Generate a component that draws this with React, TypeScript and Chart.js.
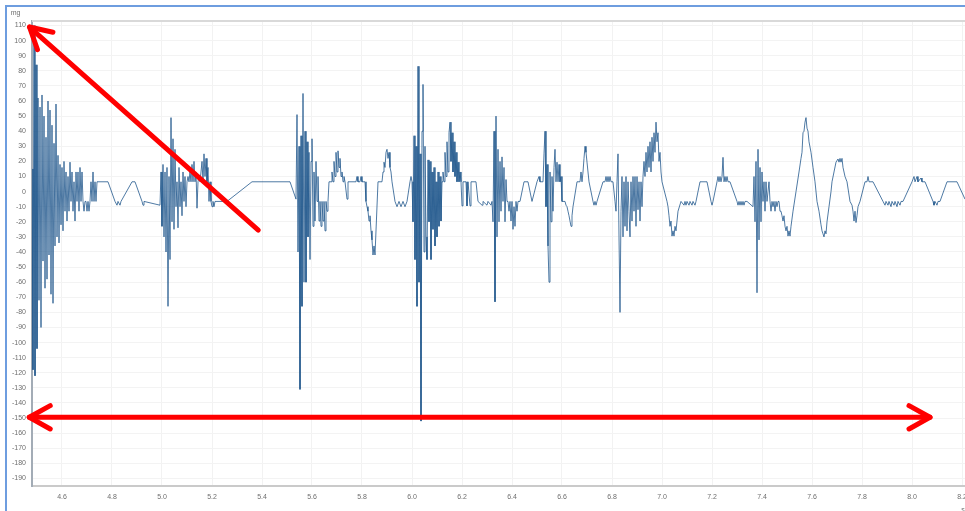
import { useEffect, useRef } from "react";
import { Chart, registerables } from "chart.js";

Chart.register(...registerables);

// ---- axis ranges -------------------------------------------------------
const X_MIN = 4.48;
const X_MAX = 8.312;
const Y_MIN = -195;
const Y_MAX = 113;
const X_STEP = 0.2;
const Y_STEP = 10;
const Y_UNIT = "mg";
const X_UNIT = "s";

// accelerometer samples every 4 ms inside bursts
const SAMPLE_S = 0.004;

// ---- bursts: start time (s) + consecutive samples (mg) -----------------
const onsetStart = 4.48;
const onsetBurst = [
  15, -118, 110, -122, 84, -104, 62, -72, 56, -90, 64, -46, 50, -64, 36, -58,
  60, -42, 54, -68, 44, -74, 32, -36, 58, -30, 24, -34, 18, -22, 16, -26, 20,
  -13, 13, -19.5, 10, -13, 19.5, -6.5, 13, -13, 6.5, -19.5, 13, -6.5, 13, -13,
  16, -6.5, 13, -6.5, -13, -6.5, -6.5, -13, -6.5, -13, -6.5, 6.5, -6.5, 13,
  -6.5, 6.5, -6.5, 6.5,
];

const secondStart = 4.992;
const secondBurst = [
  -9, 13, -23, 18, -30, 13, -40, 16, -76, 10, -45, 49, -20, 35, -25, 28, -10,
  6.5, -24, 16, -10, 6.5, -16, 13, -6.5, 10, -10, 6.5, 10, 6.5, 13, 6.5, 18,
  6.5, 20, 6.5, 13, -11, 6.5, 10, 6.5, 13, 20, 6.5, 25, 10, 22, 6.5, 16, -6.5,
  6.5, -6.5, -10, -6.5, -10, -6.5, -6.5,
];

const thirdStart = 5.536;
const thirdBurst = [
  -5, 51, -40, 30, -131, 37, -76, 65, -60, 40, -60, 33, -30, 26, -45, 20, 35,
  -23, 13, -19.5, 20, -6.5, 10, -19.5, -6.5, -23, -6.5, -19.5, -6.5, -26, -6.5,
  -13, -6.5, 6.5, 6.5, 6.5, 13, 6.5, 20, 10, 26, 13, 27, 16, 22, 10, 13, 6.5,
  10, 6.5, 6.5, -5, 6.5,
];

const dipStart = 5.812;
const dipSamples = [6.5, -6.5, -10, -13, -19.5, -16, -26, -32, -42, -36, -42];

const swellStart = 5.884;
const swellSamples = [13, 19.5, 16, 26, 28, 22, 26, 16, 13, 6.5];

const mainStart = 6.004;
const mainBurst = [
  -20, 37, -45, 30, -76, 83, -60, 25, -152, 40, 71, -40, 30, -30, -45, 21, -20,
  20, -45, 13, -25, 16, -36, 6.5, -30, 13, -23, 10, -19.5, 6.5, 13, 6.5, 26,
  10, 33, 13, 39, 46, 20, 39, 13, 33, 10, 26, 6.5, 19.5, 6.5, 13, 6.5, -9.5,
  6.5, 6.5, 6.5, 6.5, -9.5, 6.5, 6.5, -9.5, 6.5, 6.5, 6.5, 6.5, 6.5, 6.5, 6.5,
];

const fifthStart = 6.324;
const fifthBurst = [
  -20, 40, -73, 50, -30, 28, -20, 20, -13, 23, -6.5, 16, -20, 8, -6.5, -6.5,
  -13, -6.5, -19.5, -6.5, -25, -10, -23, -6.5, -13, -6.5, -6.5, -6.5,
];

const sixthStart = 6.524;
const sixthBurst = [
  6.5, 25, 40, -10, 18, -36, -60, 13, -20, 10, -13, 16, 28, 6.5, 19.5, 6.5, 18,
  6.5, 10, -6.5, -6.5, -6.5, -6.5, -9, -10, -13, -16, -19.5, -23, -16, -10,
];

const bumpStart = 6.684;
const bumpSamples = [13, 22, 30, 26, 19.5, 13, 6.5];

const seventhStart = 6.82;
const seventhBurst = [
  6.5, 25, -30, -80, -13, 10, -30, 6.5, -23, 10, -26, 6.5, -13, -30, 6.5,
  -19.5, 10, -13, 10, -23, 10, -12, 6.5, -19.5, 6.5, -10, 10, 20, 10, 26, 13,
  30, 16, 33, 13, 36, 20, 39, 26, 46, 33, 39, 20, 26, 13, 6.5,
];

const troughStart = 7.024;
const troughSamples = [-10, -16, -23, -19.5, -29.5, -26, -29.5, -23, -26, -19.5, -13];

const eighthStart = 7.368;
const eighthBurst = [
  10, -20, 20, -67, 28, -32, 16, -20, 13, -6.5, 6.5, -13, 6.5, -6.5, 0, 6.5,
  -6.5, -13, -6.5, -10, -6.5, -13, -6.5, -10, -6.5, -6.5, -13, -13, -16, -19.5,
  -16, -23, -26, -23, -29.5, -26, -29.5, -23,
];

// ---- quiet stretches, logged on change: [time s, mg] -------------------
const afterOnset = [
  [4.744, 6.5], [4.784, 6.5], [4.812, -6.5], [4.82, -9], [4.824, -6.5],
  [4.832, -9], [4.836, -6.5], [4.84, -6.5], [4.88, 6.5], [4.892, 6.5],
  [4.92, -6.5], [4.924, -9], [4.928, -6.5],
];
const afterSecond = [[5.26, -6.5], [5.36, 6.5], [5.512, 6.5]];
const afterThird = [
  [5.776, 6.5], [5.78, 10], [5.784, 6.5], [5.792, 6.5], [5.796, 10], [5.8, 6.5],
];
const afterDip = [[5.864, 6.5], [5.88, 6.5]];
const afterSwell = [
  [5.932, -6.5], [5.94, -10], [5.948, -6.5], [5.956, -10], [5.964, -6.5],
  [5.972, -10], [5.98, -6.5], [5.992, 6.5], [5.996, 10], [6.0, 6.5],
];
const afterMain = [
  [6.264, -6.5], [6.28, -9], [6.284, -6.5], [6.3, -9], [6.304, -6.5],
  [6.316, -9], [6.32, -6.5],
];
const afterFifth = [
  [6.448, 6.5], [6.464, 6.5], [6.48, -6.5], [6.5, 6.5], [6.508, 10],
  [6.512, 6.5], [6.52, 6.5],
];
const afterSixth = [[6.66, 6.5], [6.672, 6.5], [6.676, 13], [6.68, 6.5]];
const afterBump = [
  [6.724, -6.5], [6.728, -9], [6.732, -6.5], [6.736, -9], [6.74, -6.5],
  [6.744, -6.5], [6.764, 6.5], [6.772, 6.5], [6.776, 10], [6.78, 6.5],
  [6.784, 10], [6.788, 6.5], [6.792, 10], [6.796, 6.5], [6.804, 6.5],
  [6.812, -6.5], [6.816, -13],
];
const afterSeventh = [[7.02, -6.5]];
const afterTrough = [
  [7.076, -6.5], [7.088, -9], [7.092, -6.5], [7.096, -9], [7.1, -6.5],
  [7.108, -9], [7.112, -6.5], [7.12, -9], [7.124, -6.5], [7.132, -9],
  [7.136, -6.5], [7.152, 6.5], [7.18, 6.5], [7.196, -6.5], [7.2, -9],
  [7.204, -6.5], [7.22, 6.5], [7.224, 10], [7.228, 6.5], [7.232, 10],
  [7.236, 6.5], [7.24, 10], [7.244, 22.7], [7.248, 6.5], [7.252, 10],
  [7.256, 6.5], [7.26, 10], [7.264, 6.5], [7.272, 6.5], [7.3, -6.5],
  [7.304, -9], [7.308, -6.5], [7.312, -9], [7.316, -6.5], [7.32, -9],
  [7.324, -6.5], [7.328, -9], [7.332, -6.5], [7.34, -6.5], [7.364, -10],
];
const tailSway = [
  [7.524, -13], [7.536, 0], [7.548, 13], [7.556, 22], [7.56, 26], [7.564, 39],
  [7.568, 40], [7.572, 46], [7.576, 49], [7.58, 42], [7.584, 40], [7.588, 33],
  [7.596, 26], [7.604, 16], [7.612, 6.5], [7.62, -6.5], [7.628, -13],
  [7.636, -22], [7.64, -26], [7.644, -28], [7.648, -30], [7.652, -26],
  [7.656, -28], [7.66, -20], [7.668, -10], [7.676, 0], [7.68, 6.5],
  [7.688, 13], [7.696, 19.5], [7.704, 21.6], [7.708, 19.5], [7.712, 22],
  [7.716, 19.5], [7.72, 22], [7.724, 16], [7.732, 10], [7.74, 6.5],
  [7.752, -6.5], [7.76, -9], [7.764, -13], [7.768, -19.5], [7.772, -13],
  [7.776, -20.5], [7.78, -16], [7.784, -10], [7.792, -6.5], [7.812, 6.5],
  [7.82, 6.5], [7.824, 10], [7.828, 6.5], [7.844, 6.5], [7.884, -6.5],
  [7.892, -9], [7.896, -6.5], [7.904, -9], [7.908, -6.5], [7.916, -10],
  [7.92, -6.5], [7.928, -9], [7.932, -6.5], [7.94, -10], [7.944, -6.5],
  [7.952, -9], [7.956, -6.5], [7.964, -6.5], [8.0, 6.5], [8.008, 10],
  [8.012, 6.5], [8.02, 10], [8.024, 6.5], [8.036, 9], [8.04, 6.5],
  [8.052, 6.5], [8.084, -6.5], [8.088, -9], [8.092, -6.5], [8.1, -9],
  [8.104, -6.5], [8.112, -6.5], [8.14, 6.5], [8.18, 6.5], [8.212, -5],
  [8.224, -6.5],
];

// ---- red markup arrows, in data coordinates [time s, mg] ---------------
const peakArrow = [[5.385, -25.5], [4.47, 109]];
const spanArrow = [[4.469, -149.5], [8.072, -149.5]];

type Pt = { x: number; y: number };
const sampled = (start: number, values: number[]): Pt[] =>
  values.map((v, i) => ({ x: Math.round((start + i * SAMPLE_S) * 1000) / 1000, y: v }));
const logged = (pairs: number[][]): Pt[] => pairs.map(([x, y]) => ({ x, y }));

const trace: Pt[] = [
  ...sampled(onsetStart, onsetBurst),
  ...logged(afterOnset),
  ...sampled(secondStart, secondBurst),
  ...logged(afterSecond),
  ...sampled(thirdStart, thirdBurst),
  ...logged(afterThird),
  ...sampled(dipStart, dipSamples),
  ...logged(afterDip),
  ...sampled(swellStart, swellSamples),
  ...logged(afterSwell),
  ...sampled(mainStart, mainBurst),
  ...logged(afterMain),
  ...sampled(fifthStart, fifthBurst),
  ...logged(afterFifth),
  ...sampled(sixthStart, sixthBurst),
  ...logged(afterSixth),
  ...sampled(bumpStart, bumpSamples),
  ...logged(afterBump),
  ...sampled(seventhStart, seventhBurst),
  ...logged(afterSeventh),
  ...sampled(troughStart, troughSamples),
  ...logged(afterTrough),
  ...sampled(eighthStart, eighthBurst),
  ...logged(tailSway),
];

const FONT = "'Liberation Sans', Arial, sans-serif";
const TEXT = "#6e6e6e";

function arrowHead(ctx: CanvasRenderingContext2D, tx: number, ty: number, fx: number, fy: number) {
  const ang = Math.atan2(fy - ty, fx - tx);
  const len = 24;
  const spread = Math.PI / 6.2;
  ctx.beginPath();
  ctx.moveTo(tx + Math.cos(ang - spread) * len, ty + Math.sin(ang - spread) * len);
  ctx.lineTo(tx, ty);
  ctx.lineTo(tx + Math.cos(ang + spread) * len, ty + Math.sin(ang + spread) * len);
  ctx.stroke();
}

const decorations = {
  id: "decorations",
  afterDraw(chart: Chart) {
    const { ctx, chartArea, scales } = chart;
    const xs = scales.x;
    const ys = scales.y;
    ctx.save();
    // frame line along the top of the plot
    ctx.strokeStyle = "#d9d9d9";
    ctx.lineWidth = 2;
    ctx.beginPath();
    ctx.moveTo(chartArea.left, chartArea.top);
    ctx.lineTo(chartArea.right, chartArea.top);
    ctx.stroke();

    // unit labels
    ctx.fillStyle = TEXT;
    ctx.font = `7px ${FONT}`;
    ctx.textAlign = "center";
    ctx.textBaseline = "middle";
    ctx.fillText(Y_UNIT, 15.5, 13.5);
    ctx.fillText(X_UNIT, 963, 510);

    // markup arrows
    ctx.strokeStyle = "#ff0000";
    ctx.lineWidth = 5;
    ctx.lineCap = "round";
    ctx.lineJoin = "round";
    const p = (pt: number[]) => [xs.getPixelForValue(pt[0]), ys.getPixelForValue(pt[1])];

    const [a0x, a0y] = p(peakArrow[0]);
    const [a1x, a1y] = p(peakArrow[1]);
    ctx.beginPath();
    ctx.moveTo(a0x, a0y);
    ctx.lineTo(a1x, a1y);
    ctx.stroke();
    arrowHead(ctx, a1x, a1y, a0x, a0y);

    const [b0x, b0y] = p(spanArrow[0]);
    const [b1x, b1y] = p(spanArrow[1]);
    ctx.beginPath();
    ctx.moveTo(b0x, b0y);
    ctx.lineTo(b1x, b1y);
    ctx.stroke();
    arrowHead(ctx, b0x, b0y, b1x, b1y);
    arrowHead(ctx, b1x, b1y, b0x, b0y);
    ctx.restore();
  },
};

export default function App() {
  const canvasRef = useRef<HTMLCanvasElement | null>(null);

  useEffect(() => {
    const canvas = canvasRef.current;
    if (!canvas) return;
    const chart = new Chart(canvas, {
      type: "line",
      data: {
        datasets: [
          {
            data: trace,
            borderColor: "rgba(30, 84, 138, 0.78)",
            borderWidth: 1,
            pointRadius: 0,
            tension: 0,
            fill: false,
          },
        ],
      },
      options: {
        responsive: false,
        animation: false,
        devicePixelRatio: 1,
        parsing: false,
        normalized: true,
        events: [],
        layout: { padding: { top: 21, left: 0, right: 0, bottom: 0 } },
        plugins: { legend: { display: false }, tooltip: { enabled: false } },
        scales: {
          x: {
            type: "linear",
            min: X_MIN,
            max: X_MAX,
            afterFit: (s: any) => {
              s.height = 25;
            },
            ticks: {
              stepSize: X_STEP,
              includeBounds: false,
              autoSkip: false,
              maxRotation: 0,
              padding: 7,
              color: TEXT,
              font: { family: FONT, size: 7 },
              callback: (v: any) => Number(v).toFixed(1),
            },
            grid: { color: "#f2f2f2", drawTicks: false },
            border: { color: "#cacaca", width: 2 },
          },
          y: {
            type: "linear",
            min: Y_MIN,
            max: Y_MAX,
            afterFit: (s: any) => {
              s.width = 32;
            },
            ticks: {
              stepSize: Y_STEP,
              includeBounds: false,
              autoSkip: false,
              padding: 6,
              color: TEXT,
              font: { family: FONT, size: 7 },
              callback: (v: any) => String(Math.round(Number(v))),
            },
            grid: { color: "#f3f3f3", drawTicks: false },
            border: { color: "#a3acb6", width: 2 },
          },
        },
      },
      plugins: [decorations],
    });
    return () => chart.destroy();
  }, []);

  return (
    <div
      style={{
        position: "fixed",
        left: 0,
        top: 0,
        width: 965,
        height: 511,
        overflow: "hidden",
        background: "#ffffff",
      }}
    >
      <canvas
        ref={canvasRef}
        width={990}
        height={511}
        style={{ position: "absolute", left: 0, top: 0, width: 990, height: 511 }}
      />
      <div
        style={{
          position: "absolute",
          left: 5,
          top: 5,
          width: 2000,
          height: 2000,
          borderLeft: "2px solid #6e9ddf",
          borderTop: "2px solid #6e9ddf",
          pointerEvents: "none",
        }}
      />
    </div>
  );
}
